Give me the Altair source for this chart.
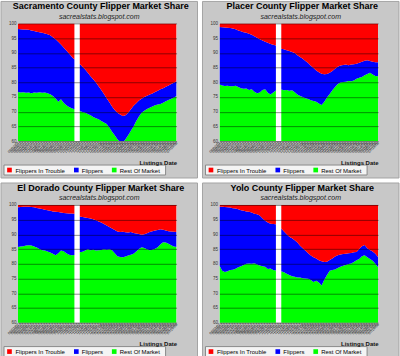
import json
import altair as alt
import pandas as pd

series_names = ["Flippers In Trouble", "Flippers", "Rest Of Market"]
series_colors = ["#ff0000", "#0000ff", "#00ff00"]

# weekly listing dates (index 22 has no data -> white gap)
week_labels = list(pd.date_range("2007-06-02", periods=60, freq="7D").strftime("%m/%d/%y"))
y_ticks = [60, 65, 70, 75, 80, 85, 90, 95, 100]
subtitle_text = "sacrealstats.blogspot.com"

# Share (%) of "Rest Of Market" and share of listings not in trouble (Rest + Flippers)
sac_rest = [76.7, 76.5, 76.6, 76.4, 76.5, 76.3, 76.5, 76.4, 76.6, 76.4, 76.5, 76.3, 75.9, 75.3, 74.5, 73.4,
            74.2, 73.0, 72.2, 71.6, 71.2, 70.8, None, 70.2, 69.9, 69.6, 69.2, 68.8, 68.2, 67.8, 67.4, 66.8,
            66.3, 65.8, 64.6, 63.2, 62.0, 60.6, 59.8, 59.5, 60.6, 62.0, 63.5, 65.0, 66.8, 68.4, 69.6, 70.3,
            70.9, 71.3, 71.8, 72.2, 72.4, 72.6, 73.0, 73.5, 74.0, 74.4, 74.8, 75.3]
sac_not_trouble = [98.1, 98.0, 97.9, 97.9, 97.8, 97.6, 97.4, 97.2, 97.0, 96.8, 96.6, 96.3, 96.0, 95.3, 94.6,
                   93.8, 92.8, 91.8, 90.8, 89.8, 88.7, 87.7, None, 86.2, 85.3, 84.3, 83.2, 82.0, 81.0, 79.9,
                   78.6, 77.4, 76.0, 74.6, 73.2, 71.8, 70.6, 69.6, 69.0, 68.5, 68.8, 69.6, 70.8, 72.0, 72.9,
                   73.8, 74.4, 75.0, 75.4, 75.8, 76.2, 76.7, 77.1, 77.6, 78.0, 78.5, 78.9, 79.4, 79.8, 80.3]

pla_rest = [79.2, 78.9, 78.7, 78.8, 78.6, 78.6, 78.8, 78.4, 78.0, 77.8, 77.9, 77.4, 77.6, 76.8, 76.3, 76.5,
            77.4, 77.6, 76.4, 75.8, 76.5, 77.2, None, 77.5, 77.3, 77.4, 77.1, 77.3, 76.6, 75.8, 75.3, 75.0,
            74.6, 74.3, 73.9, 73.6, 73.4, 72.8, 72.3, 73.4, 74.8, 76.0, 77.3, 78.4, 79.4, 79.9, 80.1, 80.2,
            80.4, 80.3, 80.6, 81.2, 81.5, 81.8, 82.4, 82.8, 83.2, 82.6, 82.1, 82.0]
pla_not_trouble = [98.8, 98.7, 98.6, 98.5, 98.4, 98.3, 98.0, 97.6, 97.3, 97.0, 96.8, 96.5, 96.1, 95.6, 95.1,
                   94.6, 94.2, 93.8, 93.4, 93.0, 92.7, 92.5, None, 91.4, 91.2, 90.9, 90.6, 90.3, 89.9, 89.2,
                   88.6, 88.0, 87.2, 86.5, 85.6, 84.8, 84.0, 83.4, 82.9, 82.7, 82.8, 83.2, 83.8, 84.6, 85.3,
                   85.7, 85.9, 86.0, 85.8, 86.0, 86.1, 86.3, 86.6, 87.0, 87.3, 87.5, 87.2, 87.0, 86.8, 86.8]

eld_rest = [85.7, 85.9, 86.0, 86.2, 86.3, 86.2, 85.9, 85.5, 85.0, 84.6, 84.5, 84.2, 83.8, 83.4, 82.9, 83.6,
            84.5, 84.3, 83.6, 83.1, 82.9, 83.0, None, 83.9, 84.1, 84.5, 84.9, 84.6, 84.8, 84.5, 84.6, 84.7,
            84.9, 84.8, 84.9, 84.6, 83.6, 82.6, 82.3, 82.2, 82.5, 82.8, 83.1, 83.4, 84.2, 85.0, 85.6, 85.4,
            84.9, 84.6, 84.8, 85.1, 85.6, 86.6, 87.3, 87.2, 86.8, 86.3, 85.9, 85.7]
eld_not_trouble = [99.2, 99.3, 99.4, 99.4, 99.4, 99.3, 99.2, 99.0, 98.8, 98.6, 98.4, 98.2, 98.0, 97.8, 97.7,
                   97.6, 97.4, 97.3, 97.2, 97.1, 97.1, 97.0, None, 96.1, 95.9, 95.7, 95.6, 95.4, 95.1, 94.8,
                   94.4, 94.0, 93.5, 93.0, 92.5, 92.0, 91.5, 91.0, 90.8, 90.9, 90.7, 90.6, 90.8, 90.5, 90.3,
                   90.1, 89.9, 90.0, 90.4, 90.8, 91.1, 91.3, 91.5, 91.7, 91.6, 91.3, 91.1, 91.0, 90.9, 90.8]

yol_rest = [79.4, 77.6, 77.2, 77.5, 77.9, 78.0, 78.3, 78.8, 79.2, 79.6, 80.0, 80.1, 80.0, 80.2, 79.8, 79.4,
            79.2, 79.0, 78.2, 78.4, 77.9, 77.7, None, 77.5, 77.1, 76.6, 76.2, 75.8, 75.6, 75.3, 75.3, 75.1,
            75.0, 74.9, 74.5, 73.8, 74.2, 73.6, 72.6, 74.6, 76.2, 77.6, 77.9, 78.1, 78.6, 79.0, 79.3, 79.6,
            79.9, 80.1, 80.6, 81.2, 81.6, 82.6, 82.9, 82.2, 81.6, 81.0, 80.0, 78.8]
yol_not_trouble = [99.4, 99.4, 99.3, 99.2, 99.1, 98.9, 98.8, 98.5, 98.2, 98.0, 97.8, 97.7, 97.4, 97.0, 96.8,
                   96.4, 95.5, 94.6, 94.0, 93.6, 93.5, 93.4, None, 92.0, 91.0, 90.0, 89.2, 88.7, 88.0, 87.2,
                   86.1, 85.3, 84.4, 83.6, 82.8, 82.2, 81.8, 81.2, 80.9, 80.6, 80.7, 81.3, 81.8, 82.5, 82.9,
                   83.2, 83.3, 83.4, 83.6, 83.7, 83.9, 84.0, 85.0, 86.0, 86.4, 85.3, 84.7, 84.2, 83.4, 82.3]

counties = [
    ("Sacramento", sac_rest, sac_not_trouble),
    ("Placer", pla_rest, pla_not_trouble),
    ("El Dorado", eld_rest, eld_not_trouble),
    ("Yolo", yol_rest, yol_not_trouble),
]

W, H = 159, 118
FONT = "Liberation Sans"
labels_js = json.dumps(week_labels)
# legend item layout (pixels from the plot's left edge): symbol centre, label start
legend_sym_x = [-8.5, 58.5, 96.5]
legend_lab_x = [-2.5, 64, 102]
LEG_Y = 147


def build_rows(rest, not_trouble):
    rows = []
    seg = 0
    for i, (g, b) in enumerate(zip(rest, not_trouble)):
        if g is None or b is None:
            seg += 1
            continue
        rows.append(dict(idx=i, series="Rest Of Market", lo=0, hi=g, seg=seg))
        rows.append(dict(idx=i, series="Flippers", lo=g, hi=b, seg=seg))
        rows.append(dict(idx=i, series="Flippers In Trouble", lo=b, hi=100, seg=seg))
    return pd.DataFrame(rows)


def panel(name, rest, not_trouble):
    df = build_rows(rest, not_trouble)
    one = alt.Data(values=[{}])
    bg = alt.Chart(one).mark_rect(fill="#c8c8c8", stroke="#a4a4a4", strokeWidth=1).encode(
        x=alt.value(-17), x2=alt.value(180), y=alt.value(-22), y2=alt.value(155)
    )
    plotbg = alt.Chart(one).mark_rect(fill="#ffffff").encode(
        x=alt.value(0), x2=alt.value(W), y=alt.value(0), y2=alt.value(H)
    )
    title = alt.Chart(one).mark_text(
        font=FONT, fontSize=9, fontWeight="bold", color="#000000",
        align="center", baseline="alphabetic",
    ).encode(x=alt.value(83), y=alt.value(-14), text=alt.value(f"{name} County Flipper Market Share"))
    subtitle = alt.Chart(one).mark_text(
        font=FONT, fontSize=7, fontStyle="italic", color="#222222",
        align="center", baseline="alphabetic",
    ).encode(x=alt.value(81.5), y=alt.value(-4.5), text=alt.value(subtitle_text))
    areas = alt.Chart(df).mark_area(clip=True).encode(
        x=alt.X(
            "idx:Q",
            scale=alt.Scale(domain=[0, len(week_labels) - 1], nice=False, zero=False),
            axis=alt.Axis(
                values=list(range(len(week_labels))),
                labelExpr=f"{labels_js}[datum.value]",
                labelAngle=-45, labelAlign="right", labelBaseline="middle",
                labelFontSize=3.6, labelColor="#111111", labelOverlap=False,
                labelPadding=1, labelFlush=False, labelBound=False,
                ticks=False, domain=False, grid=False,
                title="Listings Date", titleFontSize=6, titleFontWeight="bold",
                titleColor="#111111", titleAlign="right", titleX=W, titleY=21,
                titleBaseline="middle", titleFont=FONT, labelFont=FONT, zindex=1,
            ),
        ),
        y=alt.Y(
            "hi:Q",
            title=None,
            scale=alt.Scale(domain=[60, 100], nice=False, zero=False),
            axis=alt.Axis(
                values=y_ticks, labelFontSize=4.5, labelColor="#333333", labelFont=FONT,
                ticks=False, domain=False, grid=True, gridColor="#000000",
                gridOpacity=0.45, gridWidth=1, labelPadding=2, zindex=1,
            ),
        ),
        y2="lo:Q",
        color=alt.Color(
            "series:N",
            scale=alt.Scale(domain=series_names, range=series_colors),
            legend=None,
        ),
        detail="seg:N",
    )
    layers = [bg, plotbg, areas, title, subtitle]
    # legend box
    layers.append(
        alt.Chart(one).mark_rect(fill="#f4f4f4", stroke="#8a8a8a", strokeWidth=1).encode(
            x=alt.value(-14), x2=alt.value(148), y=alt.value(LEG_Y - 5), y2=alt.value(LEG_Y + 5)
        )
    )
    for s_name, s_col, sx, lx in zip(series_names, series_colors, legend_sym_x, legend_lab_x):
        layers.append(
            alt.Chart(one).mark_square(size=22, opacity=1, fill=s_col, strokeWidth=0).encode(
                x=alt.value(sx), y=alt.value(LEG_Y)
            )
        )
        layers.append(
            alt.Chart(one).mark_text(
                font=FONT, fontSize=6, color="#000000", align="left", baseline="middle"
            ).encode(x=alt.value(lx), y=alt.value(LEG_Y + 0.5), text=alt.value(s_name))
        )
    return alt.layer(*layers).properties(width=W, height=H)


panels = [panel(n, r, b) for n, r, b in counties]
row1 = alt.hconcat(panels[0], panels[1], spacing=3).resolve_scale(color="independent")
row2 = alt.hconcat(panels[2], panels[3], spacing=3).resolve_scale(color="independent")
chart = (
    alt.vconcat(row1, row2, spacing=3)
    .resolve_scale(color="independent")
    .properties(padding=0, background="#ffffff")
    .configure(font=FONT)
    .configure_view(strokeWidth=0)
)

chart.save("out.html", embed_options={"renderer": "svg", "actions": False})
